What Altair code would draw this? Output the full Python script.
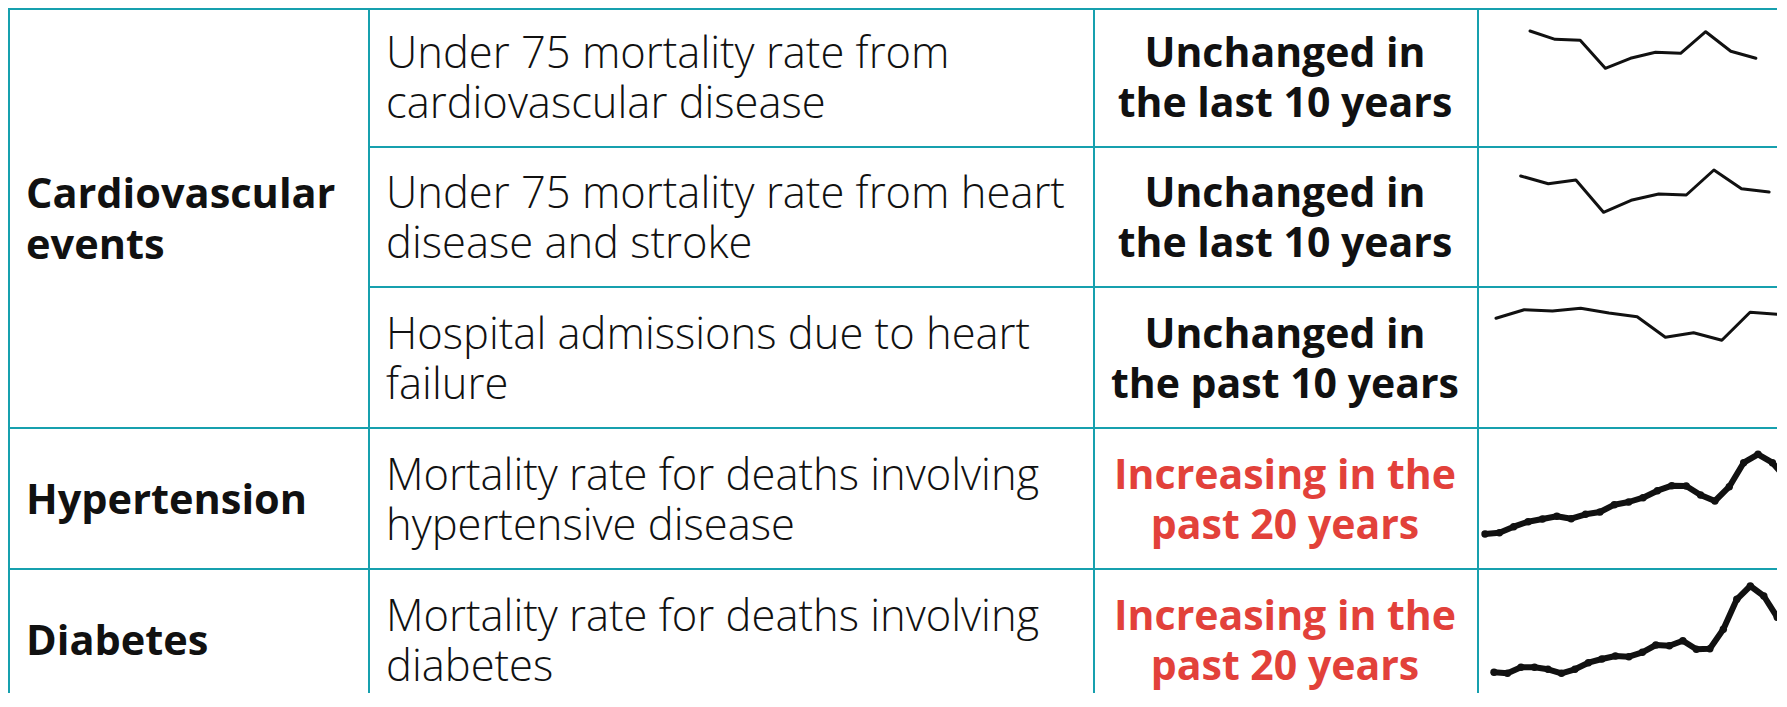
import altair as alt
import pandas as pd

# ---------------- data ----------------
indicator_group = [
    "Cardiovascular\nevents",
    "Cardiovascular\nevents",
    "Cardiovascular\nevents",
    "Hypertension",
    "Diabetes",
]
indicators = [
    "Under 75 mortality rate from\ncardiovascular disease",
    "Under 75 mortality rate from heart\ndisease and stroke",
    "Hospital admissions due to heart\nfailure",
    "Mortality rate for deaths involving\nhypertensive disease",
    "Mortality rate for deaths involving\ndiabetes",
]
statuses = [
    "Unchanged in\nthe last 10 years",
    "Unchanged in\nthe last 10 years",
    "Unchanged in\nthe past 10 years",
    "Increasing in the\npast 20 years",
    "Increasing in the\npast 20 years",
]
status_kind = ["unchanged", "unchanged", "unchanged", "increasing", "increasing"]

# sparkline readings (relative trend level, arbitrary units)
trend_cvd_u75 = [116, 107.7, 106.7, 78.7, 88.7, 94.7, 93.7, 115.3, 95.7, 88.7]
trend_heart_stroke_u75 = [111, 103.3, 107, 74.7, 86.7, 93, 92, 117, 98.3, 95]
trend_heart_failure = [109.7, 118.3, 117, 119.7, 115, 111.3, 90.7, 95.3, 87.7, 115.7, 113.7]
trend_hypertensive = [35, 36.3, 42.3, 47.3, 50, 52.7, 50.3, 54.7, 57, 64.3, 67,
                      71.3, 78.3, 83.3, 83, 74, 68, 82.3, 106.3, 114.7, 106.3, 89.7]
trend_diabetes = [37.7, 36.7, 42.7, 42.7, 40.7, 36.7, 40.7, 47.3, 51, 54, 53.3,
                  57.7, 65, 64.3, 69.3, 60.7, 61.3, 80.7, 110.7, 124, 114, 92.7]
trends = [trend_cvd_u75, trend_heart_stroke_u75, trend_heart_failure,
          trend_hypertensive, trend_diabetes]

# ---------------- layout / style ----------------
COL_W = [360, 725, 384, 300]
ROW_H = [138, 140, 141, 141, 125]
CELL_TOP_VALUE = [139, 141, 142, 142, 142]   # trend level at each cell's top edge
TEXT_DY = 3
TEXT_Y = [v - 70.5 + TEXT_DY for v in CELL_TOP_VALUE]
SPARK_X0 = [53, 43.7, 19, 8, 17]
SPARK_STEP = [25.1, 27.6, 28.23, 14.37, 13.49]
SPARK_WIDTH = {"unchanged": 3, "increasing": 6}

TEAL = "#17a0ae"
INK = "#111111"
RED = "#e2413a"
FONT = "Open Sans"
BORDER = 2

one = pd.DataFrame({"k": [0]})


def borders(w, h):
    # filled bars (no stroke) so the cell bounds stay exact and cells tile cleanly
    top = alt.Chart(one).mark_rect(color=TEAL, strokeWidth=0).encode(
        x=alt.value(0), x2=alt.value(w), y=alt.value(0), y2=alt.value(BORDER))
    left = alt.Chart(one).mark_rect(color=TEAL, strokeWidth=0).encode(
        x=alt.value(0), x2=alt.value(BORDER), y=alt.value(0), y2=alt.value(h))
    return [top, left]


def text_cell(label, w, h, x, yc, align, size, weight, color, lh):
    df = pd.DataFrame({"label": [label]})
    n_lines = label.count("\n") + 1
    y_first = yc - (n_lines - 1) * lh / 2
    t = alt.Chart(df).mark_text(
        align=align, baseline="middle", lineBreak="\n", font=FONT,
        fontSize=size, fontWeight=weight, color=color, lineHeight=lh,
    ).encode(text="label:N", x=alt.value(x), y=alt.value(y_first))
    return alt.layer(*borders(w, h), t).properties(width=w, height=h)


def spark_cell(k, w, h):
    vals = trends[k]
    df = pd.DataFrame({"i": list(range(len(vals))), "v": vals})
    x0, step = SPARK_X0[k], SPARK_STEP[k]
    xdom = [-x0 / step, (w - x0) / step]
    ydom = [CELL_TOP_VALUE[k] - h, CELL_TOP_VALUE[k]]
    base = alt.Chart(df).encode(
        x=alt.X("i:Q", scale=alt.Scale(domain=xdom, nice=False, zero=False), axis=None),
        y=alt.Y("v:Q", scale=alt.Scale(domain=ydom, nice=False, zero=False), axis=None),
    )
    sw = SPARK_WIDTH[status_kind[k]]
    layers = borders(w, h) + [
        base.mark_line(color=INK, strokeWidth=sw, clip=True,
                       strokeJoin="round", strokeCap="round")
    ]
    if status_kind[k] == "increasing":
        layers.append(base.mark_circle(color=INK, size=55, opacity=1, clip=True))
    return alt.layer(*layers).properties(width=w, height=h)


rows = []
for k in range(len(indicators)):
    h = ROW_H[k]
    desc = text_cell(indicators[k], COL_W[1], h, 18, TEXT_Y[k], "left", 43.5, 300, INK, 50)
    stat = text_cell(statuses[k], COL_W[2], h, COL_W[2] / 2, TEXT_Y[k], "center", 41, "bold",
                     RED if status_kind[k] == "increasing" else INK, 50)
    spark = spark_cell(k, COL_W[3], h)
    rows.append(alt.hconcat(desc, stat, spark, spacing=0))

# group blocks (group label spans its indicator rows)
blocks = []
k = 0
while k < len(indicators):
    g = indicator_group[k]
    idx = [i for i in range(len(indicators)) if indicator_group[i] == g]
    h = sum(ROW_H[i] for i in idx)
    ty = (h / 2 + 1 + TEXT_DY) if len(idx) > 1 else TEXT_Y[idx[0]]
    gcell = text_cell(g, COL_W[0], h, 18, ty, "left", 41.5, "bold", INK, 51)
    right = rows[idx[0]] if len(idx) == 1 else alt.vconcat(
        *[rows[i] for i in idx], spacing=0)
    blocks.append(alt.hconcat(gcell, right, spacing=0))
    k = idx[-1] + 1

chart = (
    alt.vconcat(*blocks, spacing=0)
    .properties(padding=0, background="white")
    .configure_view(stroke=None)
    .configure_concat(spacing=0)
)

chart.save("out.html", embed_options={"renderer": "svg", "actions": False})
